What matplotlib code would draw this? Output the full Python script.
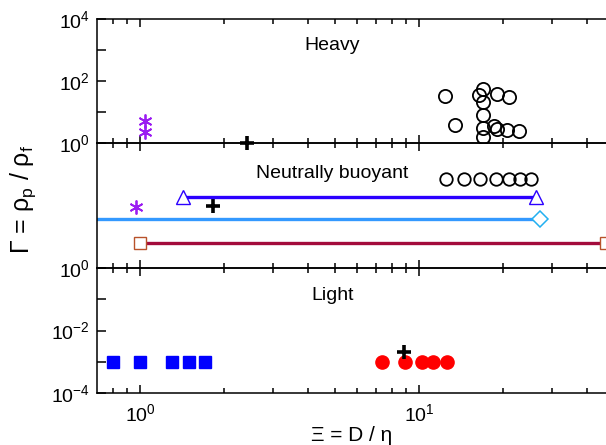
import numpy as np
import matplotlib.pyplot as plt
from matplotlib.ticker import LogLocator, NullLocator, NullFormatter

plt.rcParams['font.family'] = ['Liberation Sans', 'DejaVu Sans']
plt.rcParams['mathtext.fontset'] = 'custom'
plt.rcParams['mathtext.rm'] = 'Liberation Sans'
plt.rcParams['mathtext.it'] = 'Liberation Sans:italic'

# ---- data: heavy particles ----
heavy_x = [12.4, 13.5, 16.9, 16.4, 16.9, 16.9, 19.1, 21.1, 16.9, 16.9, 18.5, 19.1, 20.7, 22.9]
heavy_y = [33, 3.8, 54, 35, 21.5, 8, 37, 30, 3.0, 1.6, 3.5, 2.8, 2.6, 2.5]
heavy_ast_x = [1.04, 1.04]
heavy_ast_y = [5.1, 2.3]
heavy_plus_x = [2.42]
heavy_plus_y = [1.0]

# ---- data: neutrally buoyant (schematic levels, 0..1) ----
neut_circ_x = [12.5, 14.5, 16.6, 18.8, 21.0, 23.0, 25.3]
neut_circ_lvl = 0.71
neut_tri_x = [1.43, 26.2]
neut_tri_lvl = 0.566
neut_dia_x = [0.7, 27.2]
neut_dia_lvl = 0.392
neut_sq_x = [1.0, 46.8]
neut_sq_lvl = 0.2
neut_ast_x, neut_ast_lvl = [0.97], [0.49]
neut_plus_x, neut_plus_lvl = [1.83], [0.50]

# ---- data: light particles ----
light_sq_x = [0.80, 1.0, 1.30, 1.50, 1.71]
light_sq_y = [1e-3] * 5
light_circ_x = [7.35, 8.93, 10.25, 11.25, 12.57]
light_circ_y = [1e-3] * 5
light_plus_x = [8.86]
light_plus_y = [2e-3]

XLIM = (0.701, 46.8)
PURPLE = '#9b1cf2'
BLUE_DK = '#2b00ff'
BLUE_LT = '#3399ff'
DIA_EDGE = '#22b0f0'
MAROON = '#a30b3c'
SQ_EDGE = '#b8522a'

fig = plt.figure(figsize=(6.06, 4.45), dpi=100)
left, width = 97 / 606, 509 / 606
ax_l = fig.add_axes([left, 1 - 393 / 445, width, 125 / 445])
ax_n = fig.add_axes([left, 1 - 268 / 445, width, 125 / 445])
ax_h = fig.add_axes([left, 1 - 143 / 445, width, 124 / 445])

for ax in (ax_h, ax_n, ax_l):
    ax.patch.set_visible(False)
    ax.set_xscale('log')
    ax.set_xlim(*XLIM)
    ax.spines['right'].set_visible(False)
    for s in ('left', 'top', 'bottom'):
        ax.spines[s].set_linewidth(1.1)
    ax.xaxis.set_major_locator(LogLocator(base=10))
    ax.xaxis.set_minor_locator(LogLocator(base=10, subs=np.arange(2, 10)))
    ax.xaxis.set_minor_formatter(NullFormatter())
    ax.tick_params(axis='x', which='both', direction='in', top=True, bottom=True, width=1.1)
    ax.tick_params(axis='x', which='major', length=6, labelsize=14, pad=7)
    ax.tick_params(axis='x', which='minor', length=3.8)
    ax.tick_params(axis='y', which='major', direction='in', length=6.5, width=1.1,
                   labelsize=14, pad=5, right=False)
    ax.yaxis.set_minor_locator(NullLocator())
    if ax is not ax_l:
        ax.set_xticklabels([])

# --- heavy ---
ax = ax_h
ax.set_yscale('log')
ax.set_ylim(1, 1e4)
ax.yaxis.set_minor_locator(NullLocator())
ax.set_yticks([1, 10, 100, 1e3, 1e4])
ax.set_yticklabels(['$10^0$', '', '$10^2$', '', '$10^4$'])
ax.plot(heavy_x, heavy_y, 'o', mfc='none', mec='k', ms=9.5, mew=1.3)
ax.plot(heavy_ast_x, heavy_ast_y, ls='none', marker=(6, 2, 0), color=PURPLE, ms=10, mew=1.3)
ax.plot(heavy_plus_x, heavy_plus_y, '+', color='k', ms=10, mew=2.6, clip_on=False)
ax.text(0.462, 0.79, 'Heavy', transform=ax.transAxes, ha='center', va='center', fontsize=14)

# --- neutrally buoyant ---
ax = ax_n
ax.set_ylim(0, 1)
ax.set_yticks([0])
ax.set_yticklabels(['$10^0$'])
ax.plot(neut_circ_x, [neut_circ_lvl] * len(neut_circ_x), 'o', mfc='none', mec='k', ms=9, mew=1.3)
ax.plot(neut_tri_x, [neut_tri_lvl] * 2, '-', color=BLUE_DK, lw=2.4, marker='^',
        mfc='white', mec=BLUE_DK, ms=10, mew=1.0, zorder=3)
ax.plot(neut_dia_x, [neut_dia_lvl] * 2, '-', color=BLUE_LT, lw=2.4, zorder=2)
ax.plot(neut_dia_x[-1:], [neut_dia_lvl], 'D', mfc='white', mec=DIA_EDGE, ms=8.5, mew=1.1, zorder=3)
ax.plot(neut_sq_x, [neut_sq_lvl] * 2, '-', color=MAROON, lw=2.4, marker='s',
        mfc='white', mec=SQ_EDGE, ms=8.5, mew=1.0, zorder=3, clip_on=False)
ax.plot(neut_ast_x, neut_ast_lvl, ls='none', marker=(6, 2, 0), color=PURPLE, ms=10, mew=1.3)
ax.plot(neut_plus_x, neut_plus_lvl, '+', color='k', ms=10, mew=2.6)
ax.text(0.462, 0.76, 'Neutrally buoyant', transform=ax.transAxes, ha='center', va='center', fontsize=14)
ax.set_ylabel('Γ = ρ$_\\mathregular{p}$ / ρ$_\\mathregular{f}$', fontsize=18)
ax.yaxis.set_label_coords(-0.116, 0.55)

# --- light ---
ax = ax_l
ax.set_yscale('log')
ax.set_ylim(1e-4, 1)
ax.yaxis.set_minor_locator(NullLocator())
ax.set_yticks([1e-4, 1e-3, 1e-2, 1e-1, 1])
ax.set_yticklabels(['$10^{-4}$', '', '$10^{-2}$', '', ''])
ax.plot(light_sq_x, light_sq_y, 's', color='#0000ff', ms=8.5)
ax.plot(light_circ_x, light_circ_y, 'o', color='#ff0000', ms=9.5)
ax.plot(light_plus_x, light_plus_y, '+', color='k', ms=10, mew=2.6)
ax.text(0.462, 0.784, 'Light', transform=ax.transAxes, ha='center', va='center', fontsize=14)
ax.set_xlabel('Ξ = D / η', fontsize=15)
ax.xaxis.set_label_coords(0.5, -0.265)

fig.savefig('out.png', dpi=100)
